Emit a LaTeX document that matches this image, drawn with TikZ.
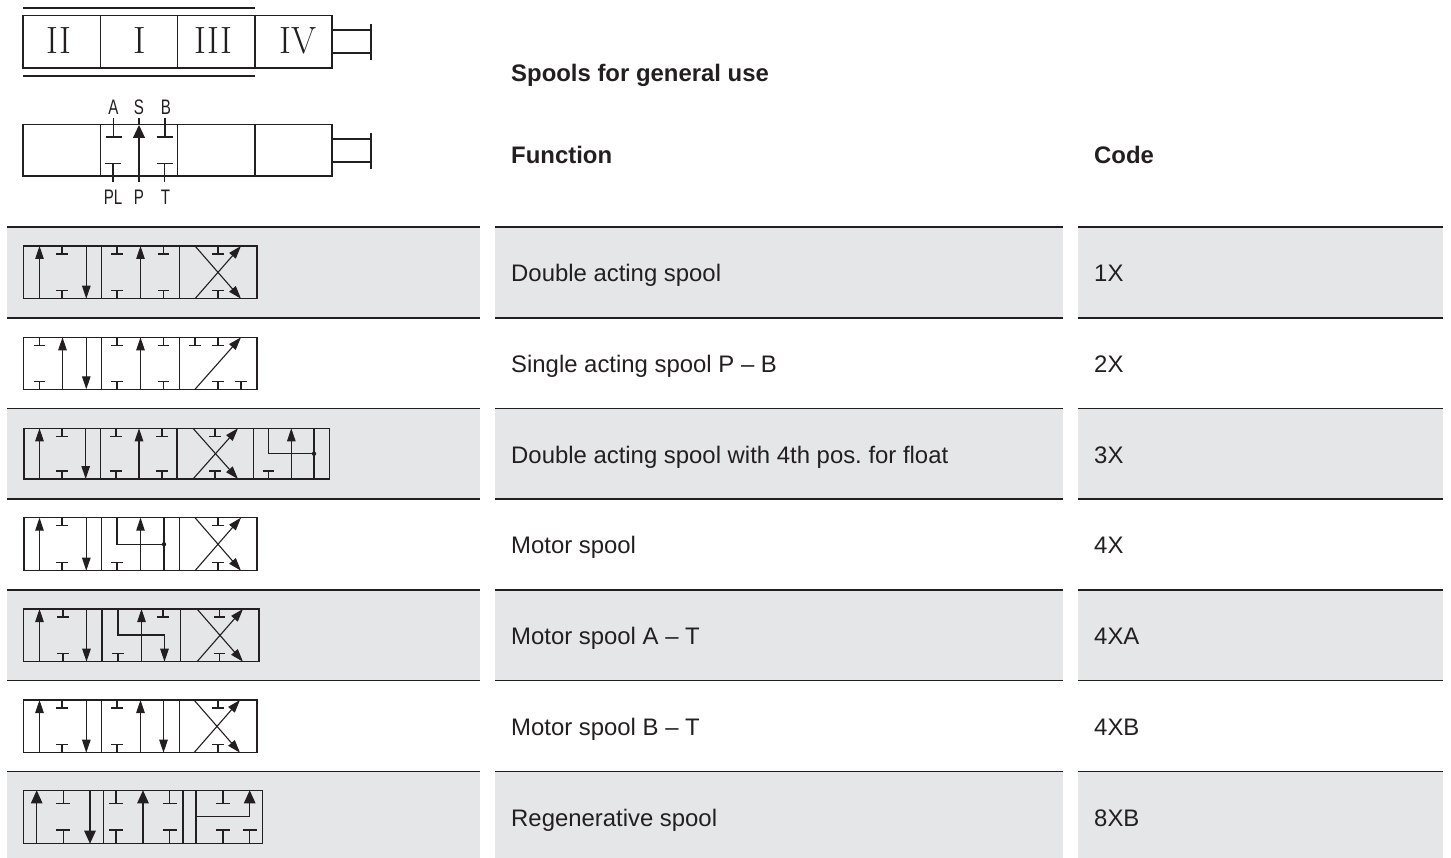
\documentclass[tikz,border=0pt]{standalone}
\usepackage{fontspec}
\setmainfont{Liberation Sans}
\newfontfamily\numfont{lmroman17-regular.otf}
\usetikzlibrary{arrows.meta}
\definecolor{rowgray}{HTML}{E5E6E8}
\definecolor{ink}{HTML}{231F20}
\frenchspacing
\tikzset{
  sym/.style={draw=ink,line width=1.1pt},
  tip/.style={-{Triangle[length=13pt,width=8.5pt]}},
  bigtip/.style={-{Triangle[length=13pt,width=11.5pt]}},
  rowfill/.style={fill=rowgray,draw=none},
  hair/.style={draw=ink,line width=1.1pt},
  heavy/.style={draw=ink,line width=2.4pt},
  body/.style={anchor=base west,text=ink,inner sep=0pt,font=\fontsize{23.9}{28}\selectfont},
  head/.style={anchor=base west,text=ink,inner sep=0pt,font=\fontsize{23.9}{28}\selectfont\bfseries},
  port/.style={text=ink,inner sep=0pt,xscale=.72,transform shape,font=\fontsize{21}{24}\selectfont},
  numeral/.style={text=ink,inner sep=0pt,font=\fontsize{38}{40}\numfont\selectfont},
}
% current valve: \ty top, \by bottom
\newcommand{\TT}[1]{\draw[sym] (#1,\ty) -- ++(0,8) (#1-5.7,\ty+8) -- ++(11.4,0);}
\newcommand{\BT}[1]{\draw[sym] (#1,\by) -- ++(0,-8) (#1-5.7,\by-8) -- ++(11.4,0);}
\newcommand{\UP}[1]{\draw[sym,tip] (#1,\by) -- (#1,\ty);}
\newcommand{\DN}[1]{\draw[sym,tip] (#1,\ty) -- (#1,\by);}
\newcommand{\XX}[2]{\draw[sym,tip] (#1,\ty) -- (#2,\by); \draw[sym,tip] (#1,\by) -- (#2,\ty);}
\newcommand{\VALVE}[4]{\def\ty{#3}\def\by{#4}\draw[sym] (#1,\ty) rectangle (#2,\by);}
\newcommand{\DIV}[1]{\draw[sym] (#1,\ty) -- (#1,\by);}
\begin{document}
\begin{tikzpicture}[x=1pt,y=-1pt]
\useasboundingbox (0,0) rectangle (1451,858);
% table fills
\foreach \a/\b in {227/318,408.3/499,590/680.3,771.7/858}{
  \fill[rowfill] (7,\a) rectangle (480,\b);
  \fill[rowfill] (495,\a) rectangle (1062.5,\b);
  \fill[rowfill] (1078,\a) rectangle (1443,\b);
}
% rules
\foreach \c/\d in {7/480,495/1062.5,1078/1443}{
  \draw[heavy] (\c,227) -- (\d,227);
  \foreach \r in {318,408.3,499,590,680.3,771.7}{\draw[hair] (\c,\r) -- (\d,\r);}
}
% texts
\node[head] (title) at (511,81.7) {Spools for general use};
\node[head] (hfunc) at (511,163.3) {Function};
\node[head] (hcode) at (1094,163.3) {Code};
\foreach \n/\yy/\t/\k in {a/281.2/Double acting spool/1X,b/372.2/Single acting spool P – B/2X,c/463.2/Double acting spool with 4th pos. for float/3X,d/553.5/Motor spool/4X,e/644.5/Motor spool A – T/4XA,f/735.5/Motor spool B – T/4XB,g/826.5/Regenerative spool/8XB}{
  \node[body] (f\n) at (511,\yy) {\t};
  \node[body] (k\n) at (1094,\yy) {\k};
}
% top symbol
\draw[sym] (23,8) -- (255,8) (23,76) -- (255,76);
\VALVE{23}{332}{15.5}{68}
\DIV{100.5}\DIV{177.5}\DIV{255}
\draw[sym] (332,30) -- (371,30) (332,53) -- (371,53) (371,24) -- (371,60);
\node[numeral,xscale=.95,transform shape] (n2) at (59,40.5) {II};
\node[numeral] (n1) at (140,40.5) {I};
\node[numeral,xscale=.95,transform shape] (n3) at (213.5,40.5) {III};
\node[numeral,xscale=.95,transform shape] (n4) at (298,40.5) {IV};
% ports symbol
\VALVE{23}{332}{124.5}{176}
\DIV{100.5}\DIV{177.5}\DIV{255}
\draw[sym] (332,139) -- (371,139) (332,162) -- (371,162) (371,133) -- (371,169);
\draw[sym] (113.5,118) -- (113.5,137) (106,137) -- (121.5,137);
\draw[sym] (165,118) -- (165,137) (157,137) -- (173,137);
\draw[sym] (113,182) -- (113,163.5) (105,163.5) -- (121,163.5);
\draw[sym] (164.5,182) -- (164.5,163.5) (157,163.5) -- (173,163.5);
\draw[sym] (139,125) -- (139,118);
\draw[sym,-{Triangle[length=13pt,width=12pt]}] (139,182) -- (139,125);
\node[port] (pa) at (113.5,107) {A};
\node[port] (ps) at (139,107) {S};
\node[port] (pb) at (166,107) {B};
\node[port] (ppl) at (113,197) {PL};
\node[port] (pp) at (139,197) {P};
\node[port] (pt) at (165.5,197) {T};
% valve 1
\VALVE{23.5}{257}{246}{298.7}
\DIV{101.7}\DIV{179.3}
\UP{39.5}\TT{62}\BT{62}\DN{86.3}
\TT{117}\BT{117}\UP{140.5}\TT{163.5}\BT{163.5}
\XX{195}{241}\TT{218}\BT{218}
% valve 2
\VALVE{23.5}{257}{337.3}{389.3}
\DIV{101.7}\DIV{179.3}
\TT{39.5}\BT{39.5}\UP{62.5}\DN{86.3}
\TT{117}\BT{117}\UP{140.5}\TT{163.5}\BT{163.5}
\draw[sym,tip] (195,\by) -- (241,\ty);
\TT{195}\TT{218}\BT{218}\BT{241}
% valve 3
\VALVE{24}{329.5}{428.3}{479}
\DIV{100.5}\DIV{177}\DIV{253.5}
\UP{39.5}\TT{62}\BT{62}\DN{85.7}
\TT{116}\BT{116}\UP{139}\TT{162}\BT{162}
\XX{193}{238}\TT{215}\BT{215}
\draw[sym] (268.3,\ty) -- (268.3,453.7) -- (314,453.7);
\DIV{314}\UP{291.3}\BT{268.3}
\fill[ink] (314,453.7) circle (2.2pt);
% valve 4
\VALVE{24}{257}{517.7}{570.7}
\DIV{101.7}\DIV{179.3}
\UP{39.5}\TT{62}\BT{62}\DN{86.3}
\draw[sym] (117,\ty) -- (117,544.3) -- (164,544.3);
\DIV{164}\UP{140.5}\BT{117}
\fill[ink] (164,544.3) circle (2.2pt);
\XX{195}{241}\TT{218}\BT{218}
% valve 5
\VALVE{23.5}{259}{609}{661.7}
\DIV{102}\DIV{180.7}
\UP{39.5}\TT{63}\BT{63}\DN{86.5}
\draw[sym,tip] (118,\ty) -- (118,635) -- (164.5,635) -- (164.5,\by);
\UP{141.5}\TT{163}\BT{118}
\XX{197}{243}\TT{219.5}\BT{219.5}
% valve 6
\VALVE{23.5}{257}{700}{752.7}
\DIV{101.7}\DIV{179.5}
\UP{39.5}\TT{62}\BT{62}\DN{86.3}
\TT{117}\BT{117}\UP{140.5}\DN{163.5}
\XX{194}{240}\TT{218}\BT{218}
% valve 7
\VALVE{23.5}{262.7}{790.3}{843.7}
\DIV{103.3}\DIV{183}\DIV{196}
\renewcommand{\TT}[1]{\draw[sym] (#1,\ty) -- ++(0,13) (#1-7,\ty+13) -- ++(14,0);}
\renewcommand{\BT}[1]{\draw[sym] (#1,\by) -- ++(0,-13.7) (#1-7,\by-13.7) -- ++(14,0);}
\draw[sym,bigtip] (36.7,\by) -- (36.7,\ty);
\TT{63.3}\BT{63.3}
\draw[sym,bigtip] (90,\ty) -- (90,\by);
\TT{116}\BT{116}
\draw[sym,bigtip] (143,\by) -- (143,\ty);
\TT{169.7}\BT{169.7}
\TT{223}\BT{223}\BT{249.5}
\draw[sym,bigtip] (196,816.7) -- (249.7,816.7) -- (249.7,\ty);
\end{tikzpicture}
\end{document}
